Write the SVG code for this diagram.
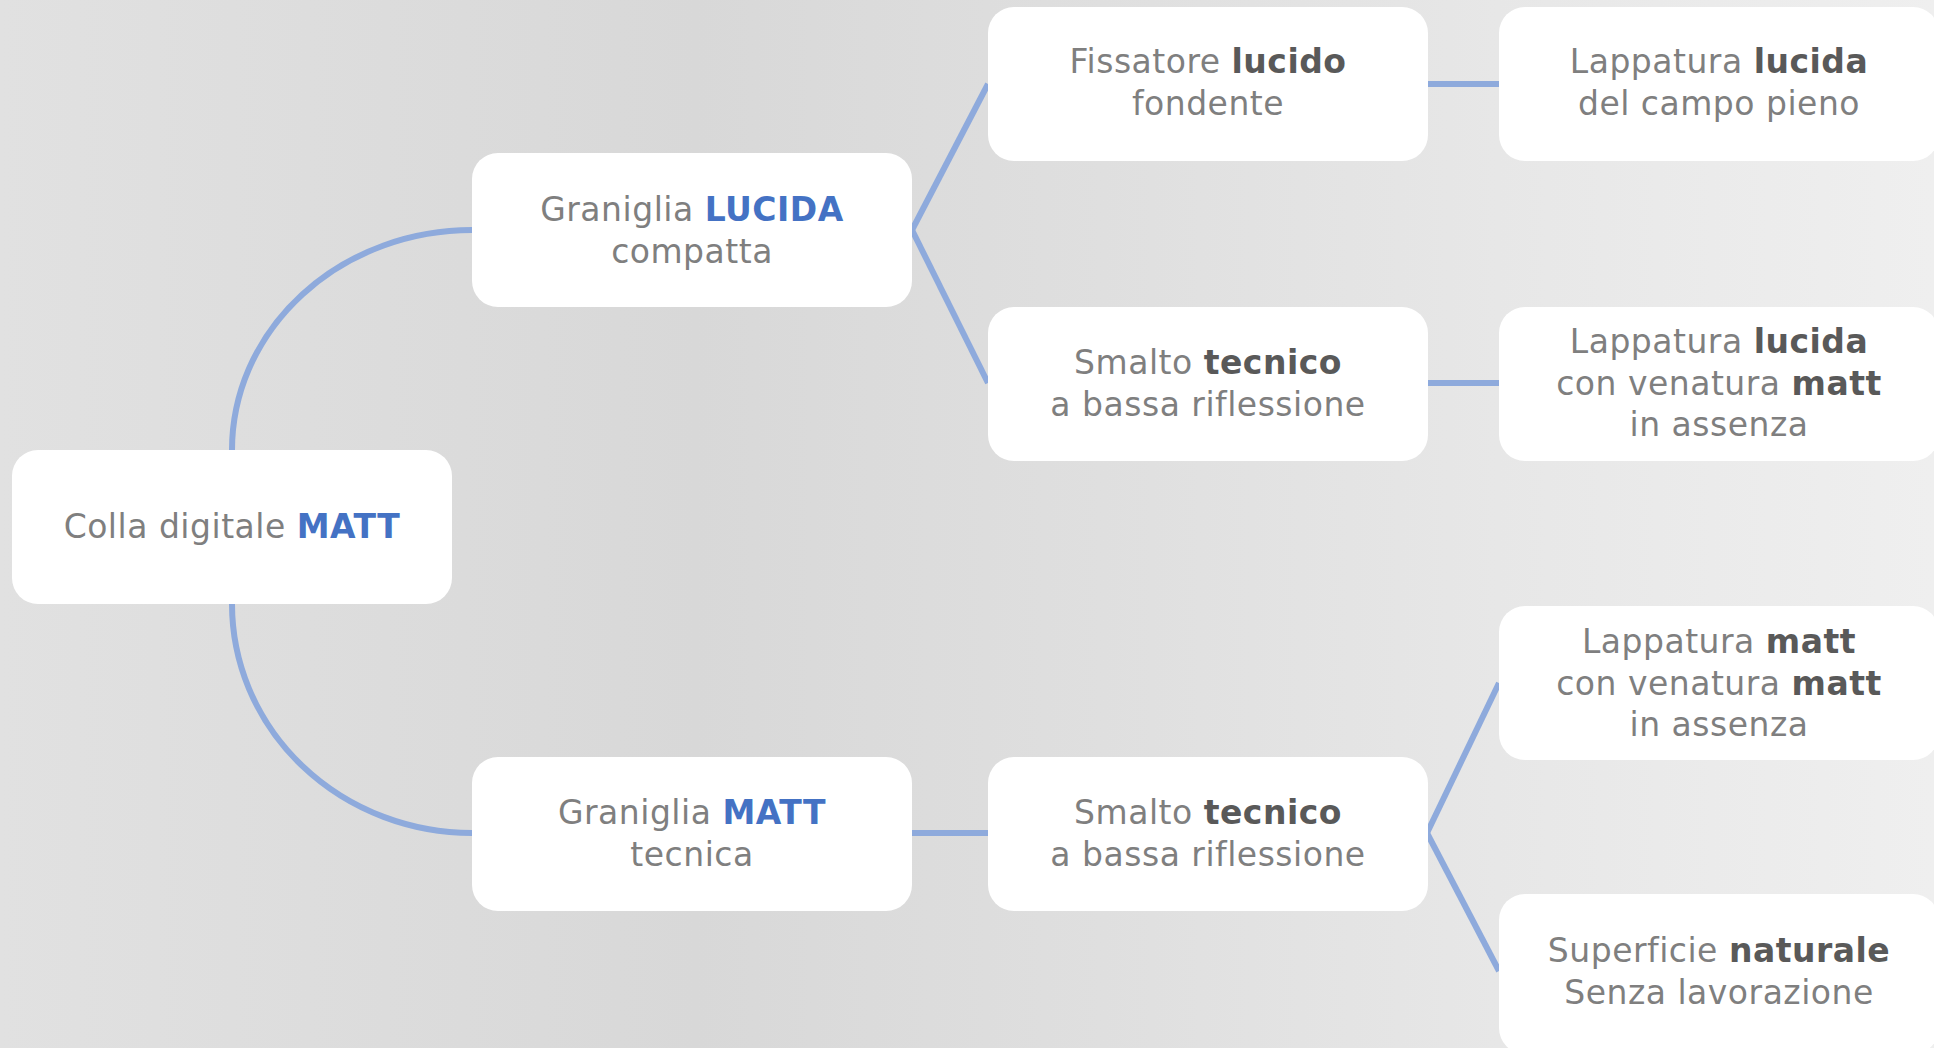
<svg xmlns="http://www.w3.org/2000/svg" width="1934" height="1048" viewBox="0 0 1934 1048">
<defs>
<linearGradient id="bg" x1="0" y1="0" x2="1" y2="0">
<stop offset="0" stop-color="#e1e1e1"/>
<stop offset="0.36" stop-color="#d8d8d8"/>
<stop offset="0.57" stop-color="#dfdfdf"/>
<stop offset="0.8" stop-color="#e8e8e8"/>
<stop offset="1" stop-color="#efefef"/>
</linearGradient>
<style>
.box{fill:#ffffff;}
.t{font-family:"DejaVu Sans","Liberation Sans",sans-serif;font-size:33px;fill:#7f7f7f;text-anchor:middle;letter-spacing:0.5px;}
.b{font-weight:bold;fill:#595959;}
.bl{font-weight:bold;fill:#4472c4;}
.c{fill:none;stroke:#8eaadc;stroke-width:6;}
</style>
</defs>
<rect x="0" y="0" width="1934" height="1048" fill="url(#bg)"/>
<g id="connectors">
<path class="c" d="M232,450 A240,220 0 0 1 472,230"/>
<path class="c" d="M232,604 A240,229 0 0 0 472,833"/>
<path class="c" d="M912,230 L988,84"/>
<path class="c" d="M912,230 L988,383"/>
<path class="c" d="M1427,84 L1499,84"/>
<path class="c" d="M1427,383 L1499,383"/>
<path class="c" d="M912,833 L988,833"/>
<path class="c" d="M1427,833 L1499,683"/>
<path class="c" d="M1427,833 L1499,971"/>
</g>
<g id="n-colla">
<rect class="box" x="12" y="450" width="440" height="154" rx="26"/>
<text class="t" x="232" y="538">Colla digitale <tspan class="bl">MATT</tspan></text>
</g>
<g id="n-graniglia-lucida">
<rect class="box" x="472" y="153" width="440" height="154" rx="26"/>
<text class="t" x="692" y="221">Graniglia <tspan class="bl">LUCIDA</tspan></text>
<text class="t" x="692" y="263">compatta</text>
</g>
<g id="n-graniglia-matt">
<rect class="box" x="472" y="757" width="440" height="154" rx="26"/>
<text class="t" x="692" y="824">Graniglia <tspan class="bl">MATT</tspan></text>
<text class="t" x="692" y="866">tecnica</text>
</g>
<g id="n-fissatore">
<rect class="box" x="988" y="7" width="440" height="154" rx="26"/>
<text class="t" x="1208" y="73">Fissatore <tspan class="b">lucido</tspan></text>
<text class="t" x="1208" y="115">fondente</text>
</g>
<g id="n-smalto-1">
<rect class="box" x="988" y="307" width="440" height="154" rx="26"/>
<text class="t" x="1208" y="374">Smalto <tspan class="b">tecnico</tspan></text>
<text class="t" x="1208" y="416">a bassa riflessione</text>
</g>
<g id="n-smalto-2">
<rect class="box" x="988" y="757" width="440" height="154" rx="26"/>
<text class="t" x="1208" y="824">Smalto <tspan class="b">tecnico</tspan></text>
<text class="t" x="1208" y="866">a bassa riflessione</text>
</g>
<g id="n-lappatura-campo">
<rect class="box" x="1499" y="7" width="440" height="154" rx="26"/>
<text class="t" x="1719" y="73">Lappatura <tspan class="b">lucida</tspan></text>
<text class="t" x="1719" y="115">del campo pieno</text>
</g>
<g id="n-lappatura-lucida-venatura">
<rect class="box" x="1499" y="307" width="440" height="154" rx="26"/>
<text class="t" x="1719" y="353">Lappatura <tspan class="b">lucida</tspan></text>
<text class="t" x="1719" y="395">con venatura <tspan class="b">matt</tspan></text>
<text class="t" x="1719" y="436">in assenza</text>
</g>
<g id="n-lappatura-matt">
<rect class="box" x="1499" y="606" width="440" height="154" rx="26"/>
<text class="t" x="1719" y="653">Lappatura <tspan class="b">matt</tspan></text>
<text class="t" x="1719" y="695">con venatura <tspan class="b">matt</tspan></text>
<text class="t" x="1719" y="736">in assenza</text>
</g>
<g id="n-superficie">
<rect class="box" x="1499" y="894" width="440" height="160" rx="26"/>
<text class="t" x="1719" y="962">Superficie <tspan class="b">naturale</tspan></text>
<text class="t" x="1719" y="1004">Senza lavorazione</text>
</g>
</svg>
